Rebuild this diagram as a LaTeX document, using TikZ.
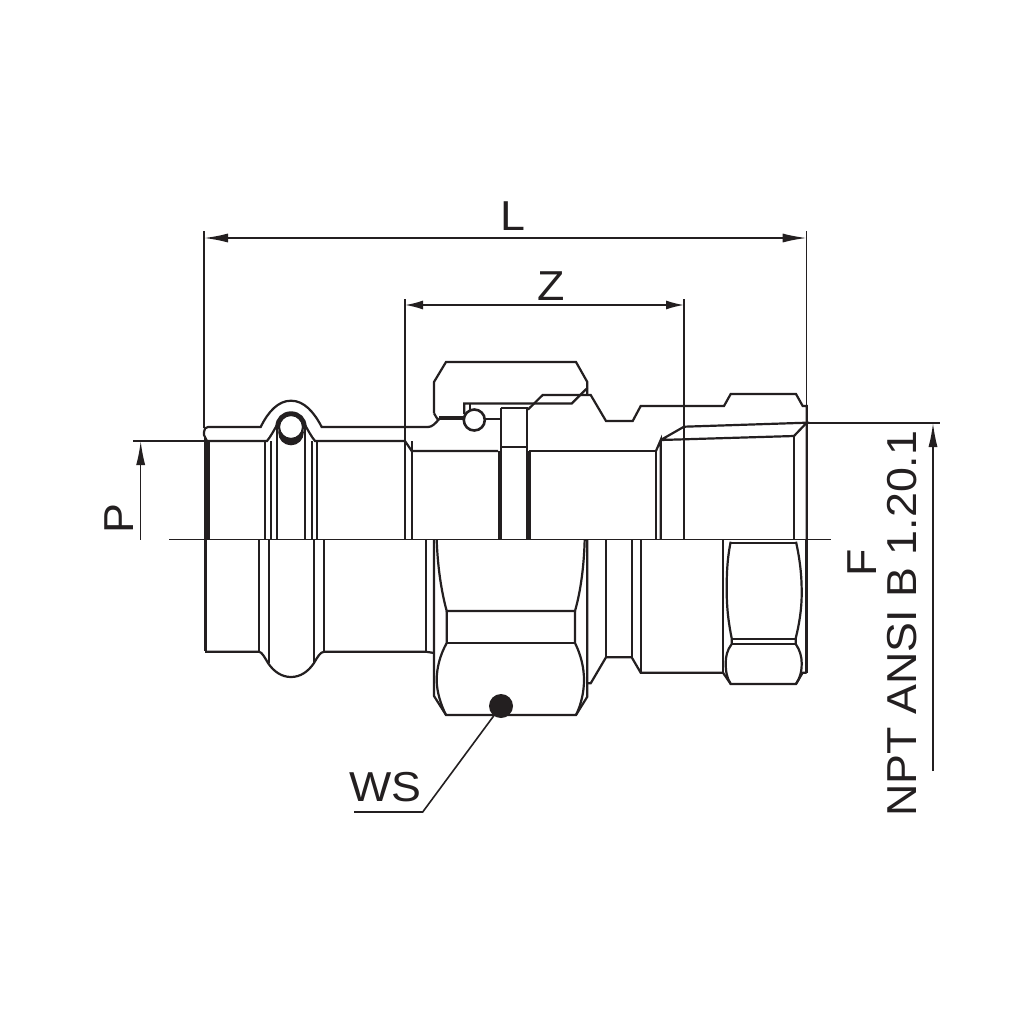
\documentclass[tikz,border=0pt]{standalone}
\usepackage{fontspec}
\setmainfont[FakeStretch=1.07]{Liberation Sans}
\usetikzlibrary{arrows.meta}
\definecolor{ink}{HTML}{231F20}
\tikzset{
  part/.style={draw=ink,line width=2.2bp,line join=miter},
  heavy/.style={draw=ink,line width=3.4bp},
  dimline/.style={draw=ink,line width=1.5bp},
  dimarrow/.style={draw=ink,line width=1.5bp,-{Latex[length=24bp,width=9bp,color=ink]}},
  dimboth/.style={draw=ink,line width=1.6bp,{Latex[length=#1,width=9bp,color=ink]}-{Latex[length=#1,width=9bp,color=ink]}},
  label/.style={text=ink,inner sep=0pt,font=\fontsize{42}{42}\selectfont}
}
\begin{document}
\begin{tikzpicture}[x=1bp,y=-1bp]
\useasboundingbox (0,0) rectangle (1024,1024);
\fill[white] (0,0) rectangle (1024,1024);

% --- centre line
\coordinate (cl) at (169,539.5); \coordinate (cr) at (831,539.5);
\draw[dimline] (cl) -- (cr);

% --- upper half: left press end
\draw[part] (428,427) -- (321.7,427) .. controls (314,412) and (304,400.7) .. (291,400.7)
  .. controls (278,400.7) and (268,412) .. (260.7,427) -- (208,427)
  .. controls (205.5,427) and (204,429) .. (204,432) -- (204,435) -- (207,441) -- (267,441)
  .. controls (271,436) and (273.5,431) .. (277,425);
\draw[part] (305,425) .. controls (308.5,431) and (311,436) .. (315,441) -- (405,441) -- (411.7,451) -- (498,451);
\draw[heavy] (205.2,438) -- (205.2,539);
\draw[part] (208.5,441) -- (208.5,539);
\foreach \x in {265,271,311.7,317.3,405,411.7} \draw[part] (\x,441) -- (\x,539);

% O-ring in groove
\fill[ink] (291,432.5) circle (12.8);
\draw[part,fill=white] (291,427) circle (12);
\draw[heavy] (277,427) .. controls (277,419) and (283,413) .. (291,413) .. controls (299,413) and (305,419) .. (305,427);
\draw[part] (277,427) -- (277,539);
\draw[part] (305,427) -- (305,539);

% --- upper half: nut and seal
\draw[part] (428,427) .. controls (432,427) and (435,424) .. (440,418);
\draw[part] (434,413.3) -- (434,382) -- (446,362) -- (576,362) -- (587.3,382) -- (587.3,395);
\draw[part] (434,413.3) -- (438,420);
\draw[line width=3.4bp,draw=ink] (439,418) -- (464,418);
\draw[part] (464.3,414) -- (464.3,403.5) -- (571.7,403.5) -- (587.3,388);
\draw[part] (470,403.5) -- (470,411);
\draw[part,fill=white,line width=2.6bp] (474.3,420) circle (10.5);
\draw[part] (485,419) -- (500.7,419);
\draw[part] (500.7,408.3) -- (528,408.3);
\draw[part] (500.7,408.3) -- (500.7,451);
\draw[heavy] (500,451) -- (500,539);
\draw[part] (527.3,408.3) -- (527.3,539);
\draw[heavy] (529,451) -- (529,539);
\draw[part] (500.7,446.7) -- (527.3,446.7);

% --- upper half: body profile
\draw[part] (528,409.5) -- (542.7,395) -- (590.7,395) -- (606,421) -- (632.7,421) -- (640.7,406)
  -- (724,406) -- (730.7,394) -- (796,394) -- (802.7,406) -- (806.7,406) -- (806.7,539);
\draw[part] (529,451) -- (656,451) -- (656,539);
\draw[part] (656,451) -- (660.7,440) -- (660.7,539);
\draw[part] (660.7,440) -- (684,426.7) -- (806.7,422.7) -- (794,436) -- (660.7,440);
\draw[part] (794,436) -- (794,539);

% --- lower half: left press end
\draw[heavy] (205.2,539.5) -- (205.2,651);
\draw[part] (205,651.7) -- (259,651.7) .. controls (262,652) and (265,658) .. (268,663)
  .. controls (274,672) and (282,677) .. (291,677) .. controls (300,677) and (308,672) .. (314,663)
  .. controls (317,658) and (320,652) .. (324,651.7) -- (426,651.7) -- (434,653);
\foreach \x in {259,324,426} \draw[part] (\x,539.5) -- (\x,651.7);
\foreach \x in {268.7,314} \draw[part] (\x,539.5) -- (\x,663);

% --- lower half: hex nut
\draw[part] (434,539.5) -- (434,696) -- (446,715) -- (576,715) -- (587.3,696.7) -- (587.3,539.5);
\draw[part] (436.7,539.5) .. controls (437.5,565) and (441,590) .. (446.7,611) -- (575,611)
  .. controls (581,590) and (584,565) .. (584.7,539.5);
\draw[part] (446.7,611) -- (446.7,643) .. controls (440,655) and (436.7,668) .. (436.7,680)
  .. controls (436.7,692) and (441,705) .. (446,715);
\draw[part] (575,611) -- (575,643) .. controls (581,655) and (584,668) .. (584,680)
  .. controls (584,692) and (581,705) .. (576,715);
\draw[part] (446.7,643.3) -- (575,643.3);

% --- lower half: body
\draw[part] (587.3,683.3) -- (590.7,683.3) -- (606,657.3) -- (631.7,657.3) -- (640.7,672.7) -- (723,672.7)
  -- (730.7,684) -- (796,684) -- (802.7,672.7) -- (806.7,672.7);
\foreach \x/\y in {606/657.3,631.7/657.3,640.7/672.7,723/672.7} \draw[part] (\x,539.5) -- (\x,\y);
\draw[heavy] (806.7,539.5) -- (806.7,672.7);

% --- lower hex on the right
\draw[part] (730.7,541.7) .. controls (727,560) and (726.7,575) .. (726.7,590)
  .. controls (726.7,610) and (729,625) .. (731.7,638.3) -- (731.7,644)
  .. controls (727,650) and (725.7,657) .. (725.7,663) .. controls (725.7,672) and (727,678) .. (730.7,684);
\draw[part] (796,541.7) .. controls (800,560) and (801.7,575) .. (801.7,593)
  .. controls (801.7,610) and (799,625) .. (795.7,638.3) -- (795.7,644)
  .. controls (800,650) and (801.7,657) .. (801.7,663) .. controls (801.7,672) and (800,678) .. (796,684);
\draw[part] (730.7,543) -- (796,543);
\draw[part] (731.7,639) -- (795.7,639);
\draw[part] (731.7,644) -- (795.7,644);

% --- dimensions
\coordinate (La) at (204,238); \coordinate (Lb) at (806.7,238);
\coordinate (Za) at (405,305); \coordinate (Zb) at (684,305);
\draw[dimline] (204,231) -- (204,428);
\draw[dimline] (806.7,231) -- (806.7,406);
\draw[dimline] (405,299) -- (405,441);
\draw[dimline] (684,299) -- (684,539.5);
\draw[dimboth=24bp] (La) -- (Lb);
\draw[dimboth=18bp] (Za) -- (Zb);

\coordinate (Pext) at (133,441); \coordinate (Pend) at (204,441);
\coordinate (Ptip) at (140.7,441); \coordinate (Pbase) at (140.7,539.5);
\draw[dimline] (Pext) -- (Pend);
\draw[dimarrow] (Pbase) -- (Ptip);

\coordinate (Fext) at (940,423); \coordinate (Fend) at (806.7,423);
\coordinate (Ftip) at (933,423); \coordinate (Fbase) at (933,771);
\draw[dimline] (Fend) -- (Fext);
\draw[dimarrow] (Fbase) -- (Ftip);

% --- labels
\node[label] (lblL) at (513,216) {L};
\node[label] (lblZ) at (551,286) {Z};
\node[label,rotate=90] (lblP) at (119,519) {P};
\node[label,rotate=90] (lblF) at (862.5,562.5) {F};
\node[label,rotate=90] (lblN) at (902,623.5) {NPT ANSI B 1.20.1};
\node[label] (lblWS) at (385.5,787) {WS};

% --- across-flats marker
\node[circle,fill=ink,inner sep=0pt,minimum size=24bp] (dot) at (501,706) {};
\coordinate (kink) at (422.7,812); \coordinate (wsend) at (354,812);
\draw[draw=ink,line width=1.6bp] (dot) -- (kink) -- (wsend);
\end{tikzpicture}
\end{document}
